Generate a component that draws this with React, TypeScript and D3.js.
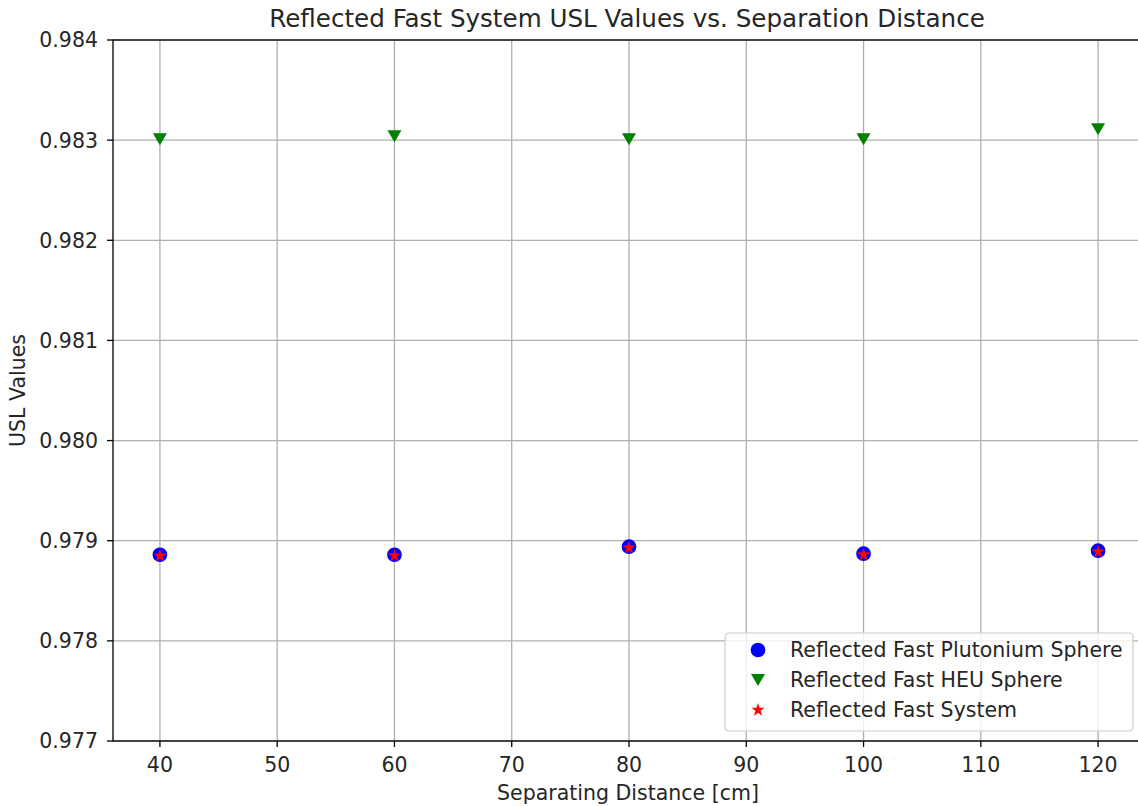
import * as d3 from "d3";
import React from "react";

const width = 1138;
const height = 806;
const margin = { top: 40, right: -7, bottom: 65, left: 113 };

// separating distance [cm]
const distances = [40, 60, 80, 100, 120];
const plutoniumUSL = [0.97886, 0.97886, 0.97894, 0.97887, 0.9789];
const heuUSL = [0.98301, 0.98304, 0.98301, 0.98301, 0.98311];
const systemUSL = [0.97886, 0.97886, 0.97894, 0.97887, 0.9789];

const xTicks = [40, 50, 60, 70, 80, 90, 100, 110, 120];
const yTicks = [0.977, 0.978, 0.979, 0.98, 0.981, 0.982, 0.983, 0.984];

const legendLabels = [
  "Reflected Fast Plutonium Sphere",
  "Reflected Fast HEU Sphere",
  "Reflected Fast System",
];

const font = "'DejaVu Sans', sans-serif";
const textColor = "#262626";
const fs = 20.5;

const App = () => {
  const xScale = d3
    .scaleLinear()
    .domain([36, 124])
    .range([margin.left, width - margin.right]);
  const yScale = d3
    .scaleLinear()
    .domain([0.977, 0.984])
    .range([height - margin.bottom, margin.top]);

  const circle = d3.symbol(d3.symbolCircle, 170)();
  const star = d3.symbol(d3.symbolStar, 55)();
  // downward triangle
  const tri = "M-7,-6L7,-6L0,6Z";

  const x0 = xScale.range()[0];
  const x1 = xScale.range()[1];
  const y0 = yScale.range()[0];
  const y1 = yScale.range()[1];

  const legendX = 725;
  const legendY = 633;

  return (
    <svg
      width={width}
      height={height}
      style={{ position: "fixed", left: 0, top: 0, background: "#fff" }}
      fontFamily={font}
    >
      {/* grid */}
      <g stroke="#b0b0b0" strokeWidth={1.3}>
        {xTicks.map((t) => (
          <line key={"gx" + t} x1={xScale(t)} x2={xScale(t)} y1={y0} y2={y1} />
        ))}
        {yTicks.map((t) => (
          <line key={"gy" + t} x1={x0} x2={x1} y1={yScale(t)} y2={yScale(t)} />
        ))}
      </g>

      {/* data */}
      <g fill="#0000ff">
        {distances.map((d, i) => (
          <path
            key={"pu" + d}
            d={circle}
            transform={`translate(${xScale(d)},${yScale(plutoniumUSL[i])})`}
          />
        ))}
      </g>
      <g fill="#008000">
        {distances.map((d, i) => (
          <path
            key={"heu" + d}
            d={tri}
            transform={`translate(${xScale(d)},${yScale(heuUSL[i])})`}
          />
        ))}
      </g>
      <g fill="#ff0000">
        {distances.map((d, i) => (
          <path
            key={"sys" + d}
            d={star}
            transform={`translate(${xScale(d)},${yScale(systemUSL[i]) + 1})`}
          />
        ))}
      </g>

      {/* spines */}
      <rect
        x={x0}
        y={y1}
        width={x1 - x0}
        height={y0 - y1}
        fill="none"
        stroke="#000"
        strokeWidth={1.3}
      />

      {/* x axis */}
      <g fontSize={fs} fill={textColor} textAnchor="middle">
        {xTicks.map((t) => (
          <g key={"xt" + t} transform={`translate(${xScale(t)},${y0})`}>
            <line y2={6} stroke="#000" strokeWidth={1.3} />
            <text y={31}>{t}</text>
          </g>
        ))}
      </g>
      {/* y axis */}
      <g fontSize={fs} fill={textColor} textAnchor="end">
        {yTicks.map((t) => (
          <g key={"yt" + t} transform={`translate(${x0},${yScale(t)})`}>
            <line x2={-6} stroke="#000" strokeWidth={1.3} />
            <text x={-15} dy="0.36em">
              {d3.format(".3f")(t)}
            </text>
          </g>
        ))}
      </g>

      {/* labels */}
      <text
        x={627}
        y={27}
        textAnchor="middle"
        fontSize={24.6}
        fill={textColor}
      >
        Reflected Fast System USL Values vs. Separation Distance
      </text>
      <text
        x={628}
        y={800}
        textAnchor="middle"
        fontSize={fs}
        fill={textColor}
      >
        Separating Distance [cm]
      </text>
      <text
        transform={`translate(25,${(y0 + y1) / 2}) rotate(-90)`}
        textAnchor="middle"
        fontSize={fs}
        fill={textColor}
      >
        USL Values
      </text>

      {/* legend */}
      <g transform={`translate(${legendX},${legendY})`}>
        <rect
          width={408}
          height={98}
          rx={4}
          fill="#fff"
          fillOpacity={0.8}
          stroke="#cccccc"
          strokeWidth={1.2}
        />
        {legendLabels.map((label, i) => {
          const cy = 17 + i * 30;
          const marker = i === 0 ? circle : i === 1 ? tri : star;
          const color = i === 0 ? "#0000ff" : i === 1 ? "#008000" : "#ff0000";
          return (
            <g key={label}>
              <path d={marker} fill={color} transform={`translate(33,${cy})`} />
              <text x={65} y={cy} dy="0.36em" fontSize={fs} fill={textColor}>
                {label}
              </text>
            </g>
          );
        })}
      </g>
    </svg>
  );
};

export default App;
